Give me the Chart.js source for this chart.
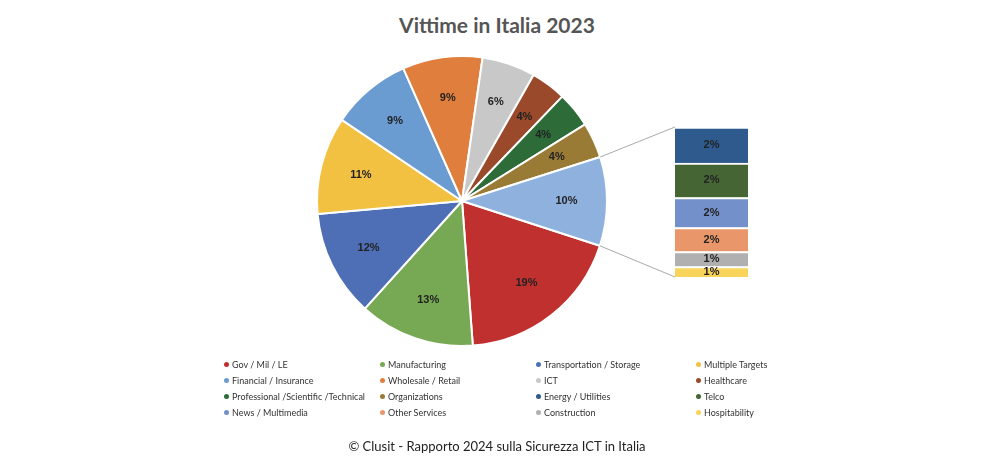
<!DOCTYPE html>
<html>
<head>
<meta charset="utf-8">
<script src="https://cdn.jsdelivr.net/npm/chart.js@4/dist/chart.umd.min.js"></script>
<style>
  body { margin: 0; width: 1000px; height: 468px; background: #fff; font-family: "Lato", "DejaVu Sans", sans-serif; position: relative; overflow: hidden; }
  #title { position: absolute; top: 12px; left: 0; width: 994px; text-align: center; font-size: 21px; font-weight: bold; color: #555; }
  #pieWrap { position: absolute; left: 314px; top: 53px; width: 296px; height: 296px; }
  #barWrap { position: absolute; left: 675px; top: 127px; width: 73px; height: 150px; }
  #lines { position: absolute; left: 0; top: 0; pointer-events: none; }
  #legend { position: absolute; left: 224px; top: 359px; font-size: 9px; color: #333; }
  .item { position: absolute; white-space: nowrap; }
  .dot { display: inline-block; width: 5px; height: 5px; border-radius: 50%; margin-right: 3px; vertical-align: 1px; }
  #footer { position: absolute; top: 438px; left: 0; width: 994px; text-align: center; font-size: 13px; color: #222; }
</style>
</head>
<body>
<div id="title">Vittime in Italia 2023</div>
<div id="pieWrap"><canvas id="pieChart"></canvas></div>
<div id="barWrap"><canvas id="barChart"></canvas></div>
<canvas id="lines" width="1000" height="468"></canvas>
<div id="legend"></div>
<div id="footer">© Clusit - Rapporto 2024 sulla Sicurezza ICT in Italia</div>
<script>
// torta principale (l'ultima fetta e' "altro", dettagliata nella barra)
const pieLabels = ['Gov / Mil / LE', 'Manufacturing', 'Transportation / Storage', 'Multiple Targets',
    'Financial / Insurance', 'Wholesale / Retail', 'ICT', 'Healthcare',
    'Professional /Scientific /Technical', 'Organizations', 'Altro'];
const pieValues = [19, 13, 12, 11, 9, 9, 6, 4, 4, 4, 10];
const pieColors = ['#c0302f', '#77a853', '#4e6eb5', '#f3c142', '#6a9bd1', '#e07f3d',
    '#c8c8c8', '#9a4a2a', '#2d6b38', '#9a7b36', '#8eb1de'];

// barra di dettaglio, dall'alto verso il basso
const barLabels = ['Energy / Utilities', 'Telco', 'News / Multimedia', 'Other Services', 'Construction', 'Hospitability'];
const barValues = [2.4, 2.3, 2.0, 1.6, 1.0, 0.7];
const barColors = ['#2f5a8e', '#456634', '#7390cb', '#e9976a', '#b0b0b0', '#f8d45a'];

// legenda: ordine per righe, 4 colonne
const legendLabels = ['Gov / Mil / LE', 'Manufacturing', 'Transportation / Storage', 'Multiple Targets',
    'Financial / Insurance', 'Wholesale / Retail', 'ICT', 'Healthcare',
    'Professional /Scientific /Technical', 'Organizations', 'Energy / Utilities', 'Telco',
    'News / Multimedia', 'Other Services', 'Construction', 'Hospitability'];
const legendColors = ['#c0302f', '#77a853', '#4e6eb5', '#f3c142',
    '#6a9bd1', '#e07f3d', '#c8c8c8', '#9a4a2a',
    '#2d6b38', '#9a7b36', '#2f5a8e', '#456634',
    '#7390cb', '#e9976a', '#b0b0b0', '#f8d45a'];

const colX = [0, 156, 312, 472];
const legend = document.getElementById('legend');
legendLabels.forEach((label, i) => {
    const el = document.createElement('div');
    el.className = 'item';
    el.style.left = colX[i % 4] + 'px';
    el.style.top = (Math.floor(i / 4) * 16) + 'px';
    el.innerHTML = `<span class="dot" style="background:${legendColors[i]}"></span>${label}`;
    legend.appendChild(el);
});

const labelFont = 'bold 11px "Liberation Sans", Arial, sans-serif';

const pieLabelPlugin = {
    id: 'pieLabels',
    afterDatasetsDraw(chart) {
        const ctx = chart.ctx;
        ctx.save();
        ctx.font = labelFont;
        ctx.fillStyle = '#222';
        ctx.textAlign = 'center';
        ctx.textBaseline = 'middle';
        chart.getDatasetMeta(0).data.forEach((arc, i) => {
            const mid = (arc.startAngle + arc.endAngle) / 2;
            const r = arc.outerRadius * 0.72;
            ctx.fillText(Math.round(pieValues[i]) + '%', arc.x + Math.cos(mid) * r, arc.y + Math.sin(mid) * r);
        });
        ctx.restore();
    }
};

const barLabelPlugin = {
    id: 'barLabels',
    afterDatasetsDraw(chart) {
        const ctx = chart.ctx;
        ctx.save();
        ctx.font = labelFont;
        ctx.fillStyle = '#222';
        ctx.textAlign = 'center';
        ctx.textBaseline = 'middle';
        chart.data.datasets.forEach((ds, di) => {
            const bar = chart.getDatasetMeta(di).data[0];
            ctx.fillText(Math.round(ds.data[0]) + '%', bar.x, (bar.y + bar.base) / 2);
        });
        ctx.restore();
    }
};

const pieChart = new Chart(document.getElementById('pieChart'), {
    type: 'pie',
    data: {
        labels: pieLabels,
        datasets: [{ data: pieValues, backgroundColor: pieColors, borderColor: '#fff', borderWidth: 2 }]
    },
    options: {
        animation: false,
        responsive: true,
        maintainAspectRatio: false,
        rotation: 108,
        layout: { padding: 2 },
        plugins: { legend: { display: false }, tooltip: { enabled: false } }
    },
    plugins: [pieLabelPlugin]
});

// barra impilata: si costruisce dal basso
const barDatasets = barValues.map((v, i) => ({
    label: barLabels[i], data: [v], backgroundColor: barColors[i],
    borderColor: '#fff', borderWidth: { top: 2 }, borderSkipped: false
})).reverse();

const barChart = new Chart(document.getElementById('barChart'), {
    type: 'bar',
    data: { labels: ['Altro'], datasets: barDatasets },
    options: {
        animation: false,
        responsive: true,
        maintainAspectRatio: false,
        layout: { padding: 0 },
        datasets: { bar: { barPercentage: 1, categoryPercentage: 1 } },
        scales: {
            x: { stacked: true, display: false },
            y: { stacked: true, display: false, min: 0, max: barValues.reduce((s, v) => s + v, 0) }
        },
        plugins: { legend: { display: false }, tooltip: { enabled: false } }
    },
    plugins: [barLabelPlugin]
});

// linee di collegamento tra la fetta "altro" e la barra
function drawConnectors() {
    const ctx = document.getElementById('lines').getContext('2d');
    const arc = pieChart.getDatasetMeta(0).data[pieValues.length - 1];
    const ox = 314, oy = 53, bx = 675, by = 127;
    const top = barChart.getDatasetMeta(barDatasets.length - 1).data[0];
    const bottom = barChart.getDatasetMeta(0).data[0];
    const x1 = ox + arc.x + Math.cos(arc.startAngle) * arc.outerRadius;
    const y1 = oy + arc.y + Math.sin(arc.startAngle) * arc.outerRadius;
    const x2 = ox + arc.x + Math.cos(arc.endAngle) * arc.outerRadius;
    const y2 = oy + arc.y + Math.sin(arc.endAngle) * arc.outerRadius;
    ctx.strokeStyle = '#aaa';
    ctx.lineWidth = 1;
    ctx.beginPath();
    ctx.moveTo(x1, y1);
    ctx.lineTo(bx + top.x - top.width / 2, by + top.y);
    ctx.moveTo(x2, y2);
    ctx.lineTo(bx + bottom.x - bottom.width / 2, by + bottom.base);
    ctx.stroke();
}
drawConnectors();
</script>
</body>
</html>
